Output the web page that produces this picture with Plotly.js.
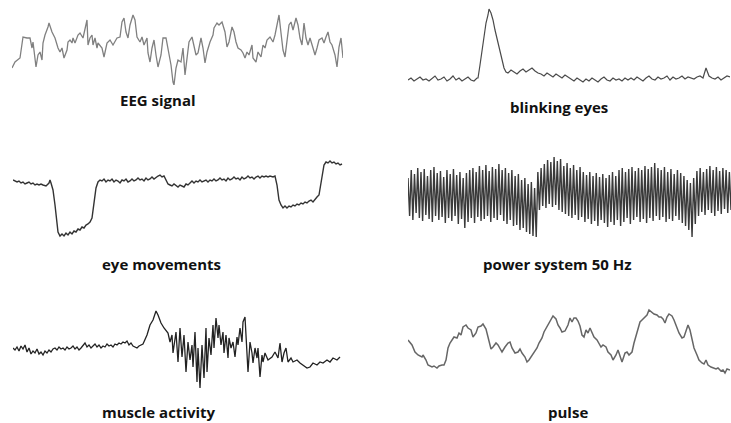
<!DOCTYPE html>
<html>
<head>
<meta charset="utf-8">
<script src="https://cdn.plot.ly/plotly-3.0.1.min.js"></script>
<style>html,body{margin:0;padding:0;background:#fff;}#chart{width:731px;height:423px;}</style>
</head>
<body>
<div id="chart"></div>
<script>
// Signal labels
const labels = ["EEG signal", "blinking eyes", "eye movements", "power system 50 Hz", "muscle activity", "pulse"];

// EEG signal (time in samples, amplitude in arbitrary units)
const eegT = [0,3,8,10,11,15,18,20,21,24,26,28,30,31,33,36,37,40,43,46,48,50,52,55,56,58,60,61,63,66,68,71,73,75,76,78,80,81,83,85,86,90,92,95,98,101,105,108,110,112,114,116,118,121,123,125,128,130,132,135,136,138,140,142,144,146,149,151,154,156,159,161,162,164,166,169,171,173,175,177,180,182,184,186,189,191,193,195,198,201,202,205,207,210,211,213,215,217,220,222,224,226,229,231,233,235,237,240,241,244,246,249,251,253,255,258,261,263,265,267,269,271,273,275,277,279,281,284,286,288,290,292,294,296,298,301,303,305,307,310,312,314,316,318,320,323,325,327,329,331];
const eegV = [17,23,27,43,48,47,47,37,43,18,30,33,25,42,50,58,62,53,47,37,33,37,27,35,43,45,42,47,42,50,52,47,55,65,40,47,50,40,47,37,42,37,28,42,45,40,47,48,63,67,53,47,60,70,65,48,43,48,40,47,32,23,37,45,30,18,30,47,47,37,20,3,0,17,25,23,37,10,27,43,48,37,30,32,47,37,22,33,43,50,57,62,60,63,60,53,38,43,58,53,43,37,35,32,27,33,30,40,27,23,33,28,40,37,45,48,43,50,60,70,52,35,28,43,60,63,55,67,60,47,40,62,47,40,47,37,30,37,45,47,42,48,53,43,40,30,18,38,47,27];

// Blinking eyes
const blinkT = [0,3,6,9,12,15,18,21,24,27,30,33,36,39,42,45,48,51,54,57,60,63,66,69,70,72,74,76,78,80,81,83,85,87,90,94,96,98,100,103,106,109,112,115,118,121,124,127,130,133,136,139,142,145,148,151,154,157,160,163,166,169,172,175,178,181,184,187,190,193,196,199,202,205,208,211,214,217,220,223,226,229,232,235,238,241,244,247,250,253,256,259,262,265,268,271,274,277,280,283,286,289,292,295,298,301,304,307,310,313,316,319,322];
const blinkV = [5,7,4,6,8,5,6,4,7,9,5,6,8,4,6,9,5,7,4,6,8,5,4,7,7,20,35,50,62,70,76,72,65,55,42,27,17,13,12,15,13,11,14,16,13,15,17,14,12,11,9,12,10,8,11,9,7,10,8,6,4,7,5,3,6,4,7,5,3,6,8,5,4,7,5,6,4,7,5,7,5,8,6,4,7,9,6,5,8,6,7,9,5,8,6,7,9,6,8,7,6,8,9,7,17,9,7,6,8,5,7,9,8];

// Eye movements
const eyeT = [0,2,4,6,8,10,12,14,16,18,20,22,24,26,28,30,33,36,37,38,40,42,43,44,45,47,49,51,53,55,57,59,61,63,65,67,69,71,73,75,77,79,81,83,85,87,89,91,93,95,97,99,101,103,105,107,109,111,113,115,117,119,121,123,125,127,129,131,133,135,137,139,141,143,145,147,149,151,153,155,157,159,161,163,165,167,169,171,173,175,177,179,181,183,185,187,189,191,193,195,197,199,201,203,205,207,209,211,213,215,217,219,221,223,225,227,229,231,233,235,237,239,241,243,245,247,249,251,253,255,257,260,262,264,266,268,270,272,274,276,278,280,282,284,286,288,290,292,294,296,298,300,302,304,306,307,309,311,313,315,317,319,321,323,325,327,329];
const eyeV = [60,59,58,59,57,58,56,57,58,56,57,55,56,55,56,55,
  54,57,60,57,50,35,25,15,8,
  4,6,4,7,5,8,6,9,8,11,10,13,12,15,16,18,22,35,52,58,60,59,61,58,60,59,61,58,60,59,57,60,59,61,58,59,61,59,60,62,60,61,59,62,60,61,63,61,63,64,65,63,64,59,56,55,54,56,54,53,55,54,53,56,55,57,59,57,59,58,60,58,59,60,58,60,59,61,59,60,62,60,61,59,62,60,61,63,61,62,60,63,61,62,64,62,63,61,63,64,62,64,63,64,63,64,
  63,64,55,40,35,32,34,32,34,33,35,34,36,35,37,36,38,37,39,40,38,41,43,45,
  52,65,75,78,77,79,77,78,76,77,75,76];

// Power system 50 Hz interference (alternating peaks and troughs, one value per sample)
const powerV = [62,24,70,20,66,27,72,22,68,19,71,25,64,21,70,18,73,24,67,20,
  69,23,63,17,70,22,66,19,71,24,65,16,68,21,62,12,67,18,70,22,
  72,17,68,23,74,19,70,21,75,24,69,18,73,22,71,20,76,25,70,19,
  72,16,67,20,70,14,64,15,66,10,60,12,62,8,56,6,58,4,52,3,
  68,30,72,34,76,32,80,36,78,33,83,35,79,30,81,28,74,26,77,24,
  72,22,75,25,70,20,73,23,68,18,65,21,68,16,64,19,67,14,63,20,
  66,17,62,13,65,18,68,15,64,20,70,14,72,18,68,22,71,16,73,20,
  69,23,72,18,70,21,74,17,71,22,73,19,77,24,72,20,70,23,73,18,
  68,21,71,19,66,24,70,20,67,17,64,14,60,10,57,3,62,16,69,24,
  72,28,68,25,71,30,74,27,70,24,73,29,69,26,72,31,70,27,68,30];

// Muscle activity
const muscleT = [0,2,4,6,8,10,12,14,16,18,20,22,24,26,28,30,32,34,36,38,40,42,44,46,48,50,52,54,56,58,60,62,64,66,68,70,72,74,76,78,80,82,84,86,88,90,92,94,96,98,100,102,104,106,108,110,112,114,116,118,120,122,124,126,128,130,
  134,137,140,143,145,148,151,155,157,159,160,163,165,167,169,171,173,175,177,179,180,182,184,185,187,189,191,193,194,196,198,200,201,203,205,206,208,210,211,213,215,216,218,220,222,224,225,227,229,230,232,234,235,237,239,240,242,244,245,247,249,250,252,255,259,262,265,267,269,271,273,275,278,280,284,287,290,294,297,300,304,307,310,314,317,320,324,327];
const muscleV = [44,42,45,41,46,43,47,40,44,38,41,39,43,38,40,37,41,39,42,40,43,44,42,45,43,44,42,45,43,44,46,43,45,42,44,47,49,45,47,44,46,48,45,47,44,46,45,48,46,47,45,48,47,49,48,50,49,51,47,49,46,45,44,46,47,48,
  57,67,72,81,77,69,64,59,50,57,39,60,30,64,35,57,20,50,32,47,25,60,10,44,4,47,14,64,20,54,37,67,44,74,54,67,47,60,39,57,34,54,44,50,35,55,47,64,50,70,75,44,20,50,39,29,44,34,44,15,37,30,39,32,35,40,34,49,30,39,44,30,34,30,32,29,27,24,25,29,27,30,29,32,30,34,32,35];

// Pulse
const pulseT = [0,4,7,10,14,15,18,20,24,26,29,31,34,36,38,40,42,44,46,49,51,53,55,58,60,63,65,68,70,73,75,78,80,81,83,85,88,90,92,94,97,100,102,104,107,110,112,114,117,119,121,124,126,129,131,134,136,139,141,143,145,148,150,152,154,157,160,162,164,166,168,170,172,174,176,178,180,182,184,186,189,191,193,195,198,200,203,205,208,210,212,214,217,219,221,224,226,228,230,232,234,237,239,241,244,246,249,251,253,255,257,259,261,264,266,269,271,274,276,279,280,282,284,286,289,291,294,296,298,300,303,305,308,310,313,315,317,319,322];
const pulseV = [38,33,26,23,21,23,18,13,11,12,10,12,13,13,18,30,35,38,41,40,45,43,51,53,50,48,41,45,51,52,54,49,41,35,29,31,35,33,30,26,31,35,36,30,25,26,29,25,21,16,18,23,25,30,35,40,46,51,55,58,62,59,53,50,46,47,53,60,56,60,60,57,52,43,41,48,45,50,45,41,38,35,31,33,31,26,23,18,23,28,21,16,25,26,23,26,35,43,50,56,58,61,63,68,65,64,63,61,61,59,55,61,64,62,58,51,45,40,41,50,53,48,40,30,23,18,15,14,18,13,11,10,9,10,7,8,5,9,8];

// ---------- layout geometry (pixels of the 731x423 page) ----------
const W = 731, H = 423;
const px = (a, b) => [a / W, b / W];
const py = (top, bottom) => [1 - bottom / H, 1 - top / H];

function ax(domain, range, anchor) {
  return {domain: domain, range: range, anchor: anchor, showgrid: false, zeroline: false,
          showline: false, showticklabels: false, ticks: '', fixedrange: true};
}

const powerX = powerV.map((_, i) => i);

const traces = [
  {x: eegT, y: eegV, xaxis: 'x', yaxis: 'y', line: {color: '#808080', width: 1.3}},
  {x: blinkT, y: blinkV, xaxis: 'x2', yaxis: 'y2', line: {color: '#4a4a4a', width: 1.2}},
  {x: eyeT, y: eyeV, xaxis: 'x3', yaxis: 'y3', line: {color: '#333', width: 1.4}},
  {x: powerX, y: powerV, xaxis: 'x4', yaxis: 'y4', line: {color: '#3a3a3a', width: 1.4}},
  {x: muscleT, y: muscleV, xaxis: 'x5', yaxis: 'y5', line: {color: '#222', width: 1.3}},
  {x: pulseT, y: pulseV, xaxis: 'x6', yaxis: 'y6', line: {color: '#666', width: 1.5}}
].map(t => Object.assign({type: 'scatter', mode: 'lines', hoverinfo: 'skip'}, t));

const labelPos = [[158, 100], [559, 107], [161, 264], [557, 264], [159, 412], [568, 412]];
const annotations = labels.map((txt, i) => ({
  text: txt, xref: 'paper', yref: 'paper',
  x: labelPos[i][0] / W, y: 1 - labelPos[i][1] / H,
  xanchor: 'center', yanchor: 'middle', showarrow: false,
  font: {family: 'Open Sans, sans-serif', size: 15, color: '#111', weight: 'bold'}
}));

const layout = {
  width: W, height: H, margin: {l: 0, r: 0, t: 0, b: 0},
  paper_bgcolor: '#fff', plot_bgcolor: 'rgba(0,0,0,0)', showlegend: false,
  xaxis: ax(px(12, 343), [0, 331], 'y'),
  yaxis: ax(py(13, 85), [0, 72], 'x'),
  xaxis2: ax(px(408, 730), [0, 322], 'y2'),
  yaxis2: ax(py(8, 85), [0, 77], 'x2'),
  xaxis3: ax(px(13, 343), [0, 330], 'y3'),
  yaxis3: ax(py(158, 240), [0, 82], 'x3'),
  xaxis4: ax(px(408, 731), [0, 199], 'y4'),
  yaxis4: ax(py(155, 240), [0, 85], 'x4'),
  xaxis5: ax(px(13, 343), [0, 330], 'y5'),
  yaxis5: ax(py(305, 392), [0, 87], 'x5'),
  xaxis6: ax(px(408, 730), [0, 322], 'y6'),
  yaxis6: ax(py(305, 378), [0, 73], 'x6'),
  annotations: annotations
};

Plotly.newPlot('chart', traces, layout, {staticPlot: true, displayModeBar: false});
</script>
</body>
</html>
